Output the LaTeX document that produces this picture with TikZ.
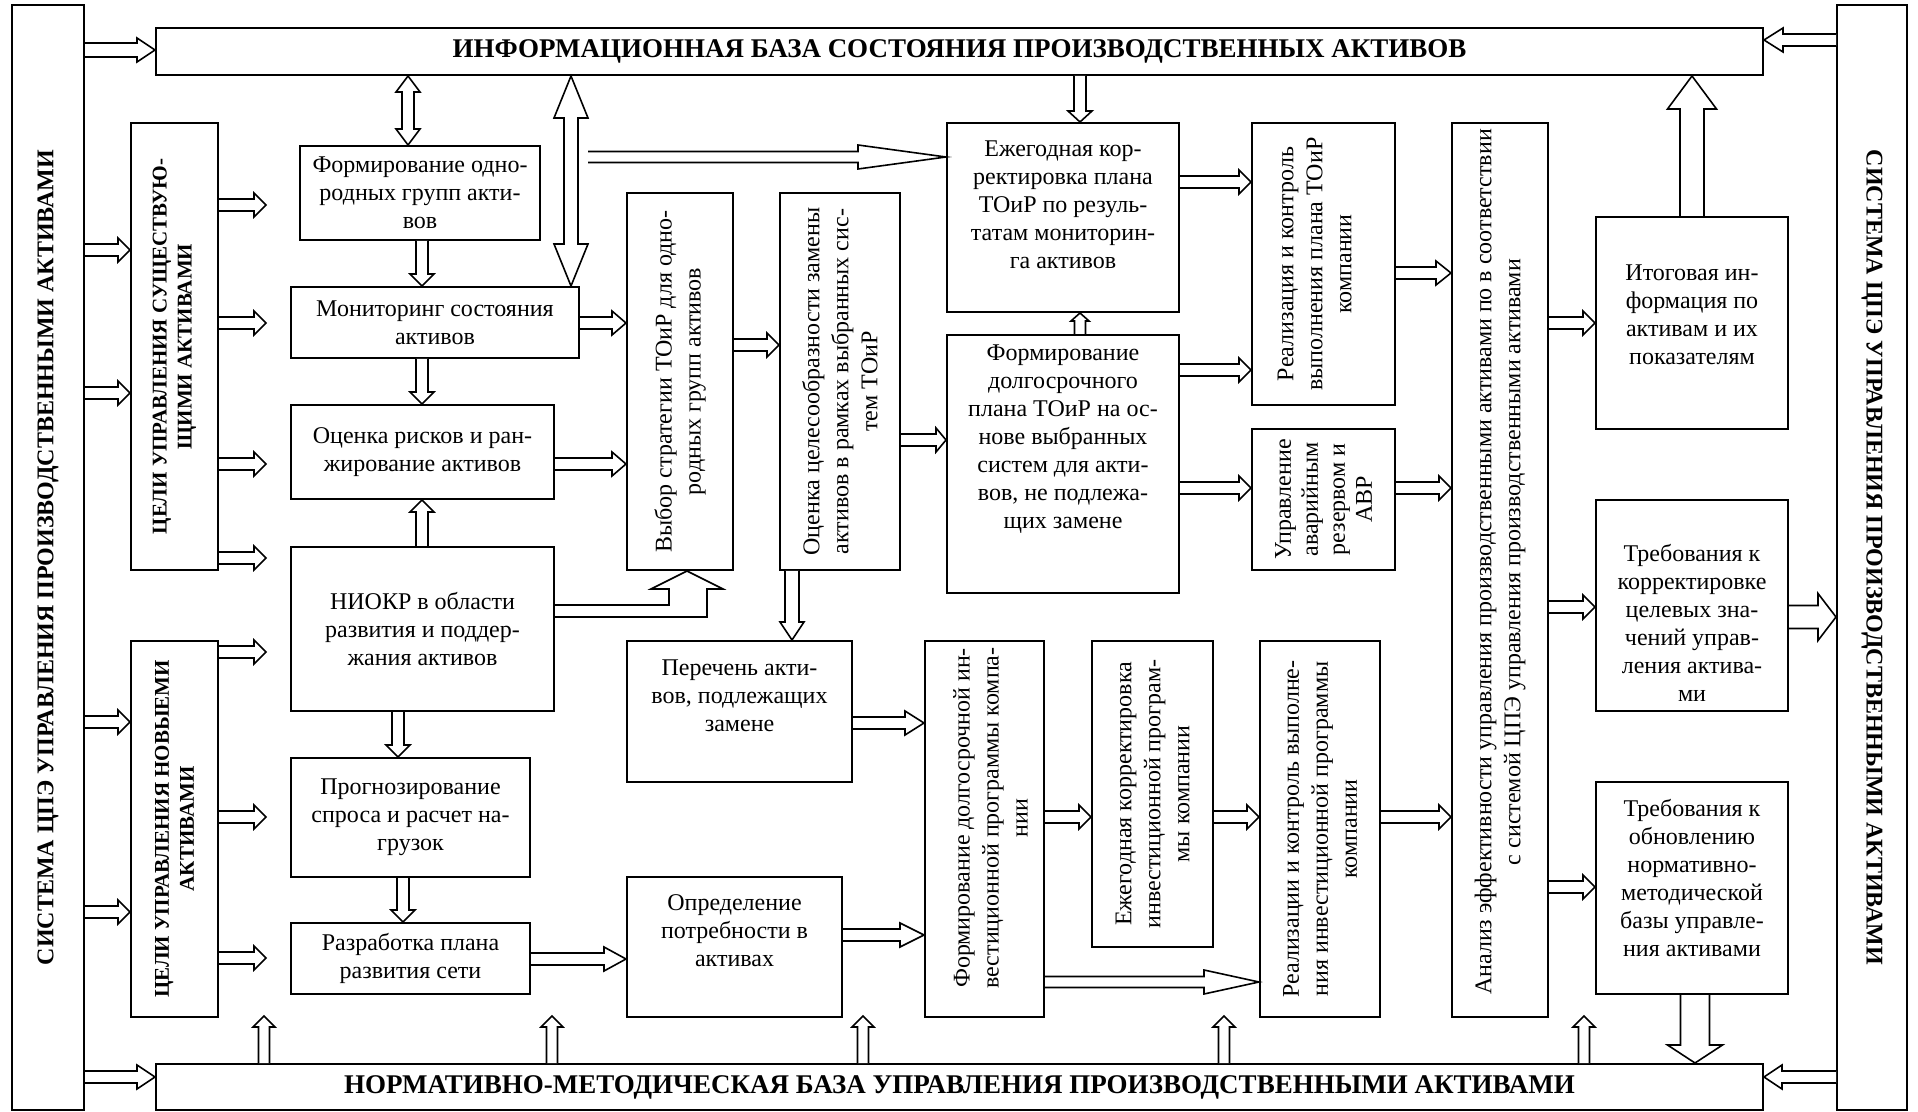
\documentclass[tikz,border=0pt]{standalone}
\usepackage{fontspec}
\setmainfont{Liberation Serif}
\usetikzlibrary{calc}

\newcommand{\blkarr}[3][]{%
  \begin{scope}[#1]
    \path (#2) coordinate (a0) (#3) coordinate (a1);
    \path ($(a1)!\headl!(a0)$) coordinate (h1);
    \draw[blk] ($(a0)!\shaftw!90:(a1)$) -- ($(h1)!\shaftw!-90:(a0)$) -- ($(h1)!\headw!-90:(a0)$) -- (a1)
      -- ($(h1)!\headw!90:(a0)$) -- ($(h1)!\shaftw!90:(a0)$) -- ($(a0)!\shaftw!-90:(a1)$);
  \end{scope}}
\newcommand{\dblarr}[3][]{%
  \begin{scope}[#1]
    \path (#2) coordinate (a0) (#3) coordinate (a1);
    \path ($(a1)!\headl!(a0)$) coordinate (h1) ($(a0)!\headl!(a1)$) coordinate (h0);
    \draw[blk] (a0) -- ($(h0)!\headw!90:(a1)$) -- ($(h0)!\shaftw!90:(a1)$) -- ($(h1)!\shaftw!-90:(a0)$)
      -- ($(h1)!\headw!-90:(a0)$) -- (a1) -- ($(h1)!\headw!90:(a0)$) -- ($(h1)!\shaftw!90:(a0)$)
      -- ($(h0)!\shaftw!-90:(a1)$) -- ($(h0)!\headw!-90:(a1)$) -- cycle;
  \end{scope}}

\begin{document}
\begin{tikzpicture}[x=0.5pt, y=-0.5pt,
    shaftw/.store in=\shaftw, headw/.store in=\headw, headl/.store in=\headl,
    shaftw=3pt, headw=6pt, headl=6pt,
    box/.style={draw, line width=1pt, inner sep=0pt, align=center, font=\fontsize{12}{14}\selectfont},
    txt/.style={align=center, inner sep=0pt, font=\fontsize{12}{14}\selectfont},
    vtxt/.style={txt, rotate=90, font=\fontsize{12}{14.5}\selectfont},
    hdr/.style={font=\fontsize{13.5}{16}\selectfont\bfseries},
    goal/.style={txt, rotate=90, font=\fontsize{10.5}{12.5}\selectfont\bfseries},
    blk/.style={draw, line width=.8pt, fill=white, line join=miter}]
    \useasboundingbox (0,0) rectangle (1918,1112);

    \node[box, minimum width=36pt, minimum height=552.5pt,
      label={[txt, rotate=90, font=\fontsize{12}{14}\selectfont\bfseries]center:{СИСТЕМА ЦПЭ УПРАВЛЕНИЯ ПРОИЗВОДСТВЕННЫМИ АКТИВАМИ}}] (sysl) at (48,557.5) {};
    \node[box, minimum width=35pt, minimum height=552.5pt,
      label={[txt, rotate=-90, font=\fontsize{12}{14}\selectfont\bfseries]center:{СИСТЕМА ЦПЭ УПРАВЛЕНИЯ ПРОИЗВОДСТВЕННЫМИ АКТИВАМИ}}] (sysr) at (1872,557.5) {};
    \node[box, hdr, minimum width=803.5pt, minimum height=23.5pt] (info) at (959.5,51.5) {ИНФОРМАЦИОННАЯ БАЗА СОСТОЯНИЯ ПРОИЗВОДСТВЕННЫХ АКТИВОВ};
    \node[box, hdr, minimum width=803.5pt, minimum height=23pt] (norm) at (959.5,1087) {НОРМАТИВНО-МЕТОДИЧЕСКАЯ БАЗА УПРАВЛЕНИЯ ПРОИЗВОДСТВЕННЫМИ АКТИВАМИ};

    \node[box, minimum width=43.5pt, minimum height=223.5pt,
      label={[goal]center:{ЦЕЛИ УПРАВЛЕНИЯ СУЩЕСТВУЮ-\\ЩИМИ АКТИВАМИ}}] (cur) at (174.5,346.5) {};
    \node[box, minimum width=43.5pt, minimum height=188pt,
      label={[goal]center:{ЦЕЛИ УПРАВЛЕНИЯ НОВЫЕМИ\\АКТИВАМИ}}] (new) at (174.5,829) {};

    \node[box, minimum width=120pt, minimum height=47pt] (grp) at (420,193) {Формирование одно-\\родных групп акти-\\вов};
    \node[box, minimum width=144pt, minimum height=35.5pt] (mon) at (435,322.5) {Мониторинг состояния\\активов};
    \node[box, minimum width=131.5pt, minimum height=47pt] (risk) at (422.5,452) {Оценка рисков и ран-\\жирование активов};
    \node[box, minimum width=131.5pt, minimum height=82pt] (rnd) at (422.5,629) {НИОКР в области\\развития и поддер-\\жания активов};
    \node[box, minimum width=119.5pt, minimum height=59.5pt] (fcst) at (410.5,817.5) {Прогнозирование\\спроса и расчет на-\\грузок};
    \node[box, minimum width=119.5pt, minimum height=35.5pt] (net) at (410.5,958.5) {Разработка плана\\развития сети};

    \node[box, minimum width=53pt, minimum height=188.5pt,
      label={[vtxt]center:{Выбор стратегии ТОиР для одно-\\родных групп активов}}] (strat) at (680,381.5) {};
    \node[box, minimum width=60pt, minimum height=188.5pt,
      label={[vtxt]center:{Оценка целесообразности замены\\активов в рамках выбранных сис-\\тем ТОиР}}] (repl) at (840,381.5) {};
    \node[box, minimum width=112.5pt, minimum height=70.5pt,
      label={[yshift=8pt, txt]center:{Перечень акти-\\вов, подлежащих\\замене}}] (lst) at (739.5,711.5) {};
    \node[box, minimum width=107.5pt, minimum height=70pt,
      label={[yshift=8pt, txt]center:{Определение\\потребности в\\активах}}] (need) at (734.5,947) {};

    \node[box, minimum width=116pt, minimum height=94.5pt,
      label={[yshift=6.5pt, txt]center:{Ежегодная кор-\\ректировка плана\\ТОиР по резуль-\\татам мониторин-\\га активов}}] (ytoir) at (1063,217.5) {};
    \node[box, minimum width=116pt, minimum height=129pt,
      label={[yshift=12.5pt, txt]center:{Формирование\\долгосрочного\\плана ТОиР на ос-\\нове выбранных\\систем для акти-\\вов, не подлежа-\\щих замене}}] (ltoir) at (1063,464) {};
    \node[box, minimum width=71.5pt, minimum height=141pt,
      label={[xshift=-4.5pt, vtxt]center:{Реализация и контроль\\выполнения плана ТОиР\\компании}}] (rtoir) at (1323.5,264) {};
    \node[box, minimum width=71.5pt, minimum height=70.5pt,
      label={[vtxt, font=\fontsize{12}{13.5}\selectfont]center:{Управление\\аварийным\\резервом и\\АВР}}] (emr) at (1323.5,499.5) {};

    \node[box, minimum width=59.5pt, minimum height=188pt,
      label={[xshift=3pt, yshift=5.5pt, vtxt]center:{Формирование долгосрочной ин-\\вестиционной программы компа-\\нии}}] (inv) at (984.5,829) {};
    \node[box, minimum width=60.5pt, minimum height=153pt,
      label={[vtxt]center:{Ежегодная корректировка\\инвестиционной програм-\\мы компании}}] (yinv) at (1152.5,794) {};
    \node[box, minimum width=60pt, minimum height=188pt,
      label={[vtxt]center:{Реализации и контроль выполне-\\ния инвестиционной программы\\компании}}] (rinv) at (1320,829) {};
    \node[box, minimum width=48pt, minimum height=447pt,
      label={[yshift=4pt, vtxt]center:{Анализ эффективности управления производственными активами по в соответствии\\с системой ЦПЭ управления производственными активами}}] (anl) at (1500,570) {};

    \node[box, minimum width=96pt, minimum height=106pt,
      label={[yshift=4pt, txt]center:{Итоговая ин-\\формация по\\активам и их\\показателям}}] (res) at (1692,323) {};
    \node[box, minimum width=96pt, minimum height=105.5pt,
      label={[yshift=-8.5pt, txt]center:{Требования к\\корректировке\\целевых зна-\\чений управ-\\ления актива-\\ми}}] (treq) at (1692,605.5) {};
    \node[box, minimum width=96pt, minimum height=106pt,
      label={[yshift=5pt, txt]center:{Требования к\\обновлению\\нормативно-\\методической\\базы управле-\\ния активами}}] (nreq) at (1692,888) {};

    \coordinate (lng) at (588,157);

    \blkarr[shaftw=3.5pt, headl=9pt]{sysl.east |- 0,50}{info.west |- 0,50}
    \blkarr[headl=9.5pt]{sysr.west |- 0,40}{info.east |- 0,40}
    \blkarr{sysl.east |- 0,250}{cur.west |- 0,250}
    \blkarr{sysl.east |- 0,393}{cur.west |- 0,393}
    \blkarr{sysl.east |- 0,722}{new.west |- 0,722}
    \blkarr{sysl.east |- 0,912}{new.west |- 0,912}
    \blkarr[headl=9pt]{sysl.east |- 0,1077}{norm.west |- 0,1077}
    \blkarr[headl=9pt]{sysr.west |- 0,1077}{norm.east |- 0,1077}

    \blkarr{cur.east |- 0,205}{$(cur.east |- 0,205)+(47,0)$}
    \blkarr{cur.east |- 0,323}{$(cur.east |- 0,323)+(47,0)$}
    \blkarr{cur.east |- 0,464}{$(cur.east |- 0,464)+(47,0)$}
    \blkarr{cur.east |- 0,558}{$(cur.east |- 0,558)+(47,0)$}
    \blkarr{new.east |- 0,652}{$(new.east |- 0,652)+(47,0)$}
    \blkarr{new.east |- 0,817}{$(new.east |- 0,817)+(47,0)$}
    \blkarr{new.east |- 0,958}{$(new.east |- 0,958)+(47,0)$}

    \dblarr[headl=8pt]{info.south -| 408,0}{grp.north -| 408,0}
    \dblarr[shaftw=3.5pt, headw=8.5pt, headl=21pt]{info.south -| 571,0}{mon.north -| 571,0}
    \blkarr{grp.south -| 422,0}{mon.north -| 422,0}
    \blkarr{mon.south -| 422,0}{risk.north -| 422,0}
    \blkarr{rnd.north -| 422,0}{risk.south -| 422,0}
    \blkarr{rnd.south -| 398,0}{fcst.north -| 398,0}
    \blkarr{fcst.south -| 403,0}{net.north -| 403,0}
    \blkarr[headl=7pt]{mon.east |- 0,323}{strat.west |- 0,323}
    \blkarr[headl=7pt]{risk.east |- 0,464}{strat.west |- 0,464}
    \draw[blk] (rnd.east |- 0,605) -- (669,605) -- (669,589) -- (651,589) -- (strat.south -| 687,0)
      -- (723,589) -- (707,589) -- (707,617) -- (rnd.east |- 0,617);
    \blkarr{strat.east |- 0,345}{repl.west |- 0,345}
    \blkarr[shaftw=2.75pt, headl=44pt]{lng}{ytoir.west |- lng}
    \blkarr[headl=5.5pt]{info.south -| 1080,0}{ytoir.north -| 1080,0}
    \blkarr[shaftw=2.75pt, headw=4.5pt, headl=4pt]{ltoir.north -| 1080,0}{ytoir.south -| 1080,0}
    \blkarr[headl=5pt]{repl.east |- 0,440}{ltoir.west |- 0,440}
    \blkarr[shaftw=3.5pt, headl=9pt]{repl.south -| 792,0}{lst.north -| 792,0}

    \blkarr{ytoir.east |- 0,182}{rtoir.west |- 0,182}
    \blkarr{ltoir.east |- 0,370}{rtoir.west |- 0,370}
    \blkarr{ltoir.east |- 0,488}{emr.west |- 0,488}
    \blkarr[headl=7.5pt]{rtoir.east |- 0,273}{anl.west |- 0,273}
    \blkarr{emr.east |- 0,488}{anl.west |- 0,488}
    \blkarr{anl.east |- 0,323}{res.west |- 0,323}
    \blkarr{anl.east |- 0,607}{treq.west |- 0,607}
    \blkarr{anl.east |- 0,887}{nreq.west |- 0,887}
    \blkarr[shaftw=6pt, headw=12.25pt, headl=16.5pt]{res.north -| 1692,0}{info.south -| 1692,0}
    \blkarr[shaftw=5.75pt, headw=11.75pt, headl=9pt]{treq.east |- 0,617}{sysr.west |- 0,617}
    \blkarr[shaftw=7.25pt, headw=13.75pt, headl=9pt]{nreq.south -| 1695,0}{norm.north -| 1695,0}

    \blkarr[headl=9.5pt]{lst.east |- 0,723}{inv.west |- 0,723}
    \blkarr[headl=11pt]{net.east |- 0,959}{need.west |- 0,959}
    \blkarr[headl=12pt]{need.east |- 0,935}{inv.west |- 0,935}
    \blkarr{inv.east |- 0,817}{yinv.west |- 0,817}
    \blkarr{yinv.east |- 0,817}{rinv.west |- 0,817}
    \blkarr[shaftw=2.75pt, headl=27.5pt]{inv.east |- 0,982}{rinv.west |- 0,982}
    \blkarr{rinv.east |- 0,817}{anl.west |- 0,817}

    \blkarr[shaftw=2.75pt, headw=5.5pt, headl=5.5pt]{norm.north -| 264,0}{$(norm.north -| 264,0)+(0,-47)$}
    \blkarr[shaftw=2.75pt, headw=5.5pt, headl=5.5pt]{norm.north -| 552,0}{$(norm.north -| 552,0)+(0,-47)$}
    \blkarr[shaftw=2.75pt, headw=5.5pt, headl=5.5pt]{norm.north -| 863,0}{$(norm.north -| 863,0)+(0,-47)$}
    \blkarr[shaftw=2.75pt, headw=5.5pt, headl=5.5pt]{norm.north -| 1224,0}{$(norm.north -| 1224,0)+(0,-47)$}
    \blkarr[shaftw=2.75pt, headw=5.5pt, headl=5.5pt]{norm.north -| 1584,0}{$(norm.north -| 1584,0)+(0,-47)$}
\end{tikzpicture}
\end{document}
